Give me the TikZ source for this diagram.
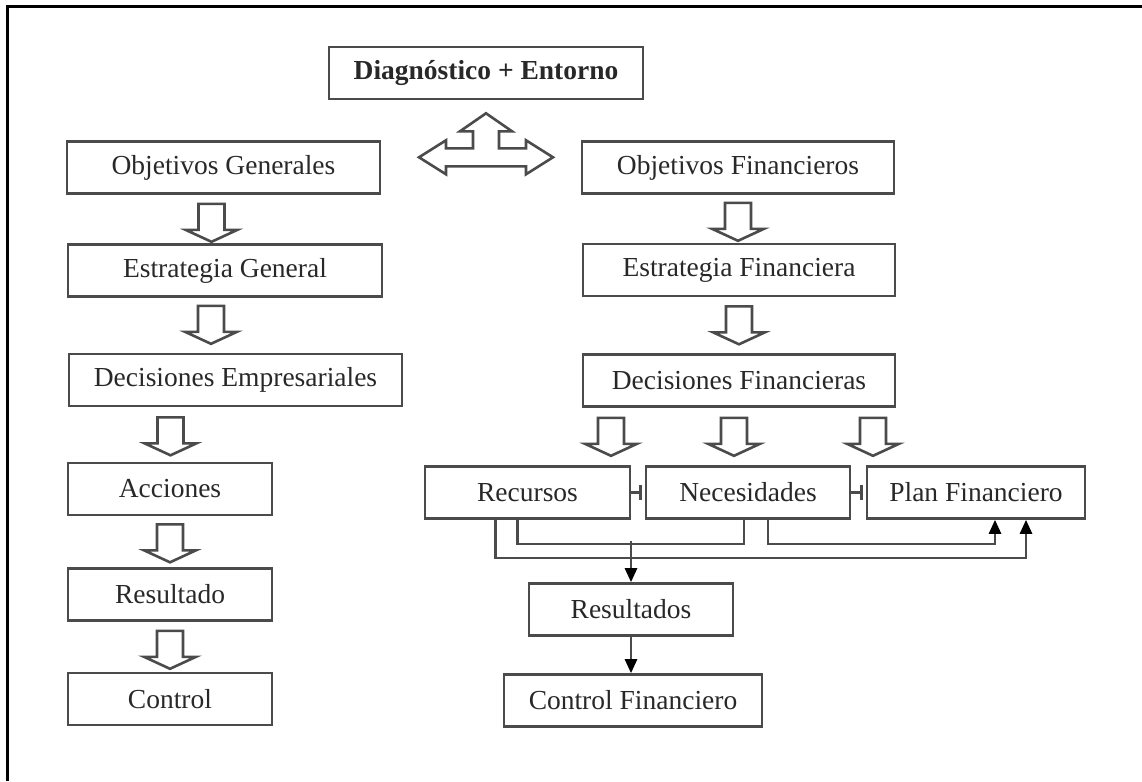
\documentclass[tikz,border=0pt]{standalone}
\usepackage{fontspec}
\setmainfont{Liberation Serif}
\usepackage{tikz}
\usetikzlibrary{arrows.meta,calc}

\definecolor{boxgray}{RGB}{75,75,75}
\definecolor{txtgray}{RGB}{40,40,40}

\tikzset{
  box/.style={draw=boxgray, line width=2.6pt, minimum height=52pt, inner sep=0pt, text=txtgray, font=\fontsize{27.5}{32}\selectfont},
  flow/.style={draw=boxgray, line width=2.6pt},
  ahead/.style={flow, -{Triangle[length=14pt,width=12pt,color=black]}},
  tee/.style={flow, -{Bar[width=15pt]}, shorten >=3pt},
  downarr/.pic={\draw[flow, fill=white] (-13,0) -- (13,0) -- (13,26) -- (26,26) -- (0,38) -- (-26,26) -- (-13,26) -- cycle;}
}

\begin{document}
\begin{tikzpicture}[x=1pt, y=-1pt]
  \useasboundingbox (0,0) rectangle (1142,781);
  \draw[line width=3pt] (7,781) -- (7,7) -- (1142,7);

  \node[box, minimum width=314, font=\fontsize{27.5}{32}\selectfont\bfseries] (diag) at (486,73) {Diagnóstico + Entorno};
  \node[box, minimum width=313] (objgen) at (223.5,167.5) {Objetivos Generales};
  \node[box, minimum width=314] (estgen) at (225,270.5) {Estrategia General};
  \node[box, minimum width=333] (decemp) at (235.5,380) {Decisiones Empresariales};
  \node[box, minimum width=204] (acc) at (170,489) {Acciones};
  \node[box, minimum width=204] (res) at (170,594.5) {Resultado};
  \node[box, minimum width=204] (ctl) at (170,699) {Control};
  \node[box, minimum width=312] (objfin) at (738,167.5) {Objetivos Financieros};
  \node[box, minimum width=312] (estfin) at (739,270) {Estrategia Financiera};
  \node[box, minimum width=312] (decfin) at (739,380.5) {Decisiones Financieras};
  \node[box, minimum width=205] (rec) at (527.5,492.5) {Recursos};
  \node[box, minimum width=204] (nec) at (748,492.5) {Necesidades};
  \node[box, minimum width=218] (plan) at (976,492.5) {Plan Financiero};
  \node[box, minimum width=204] (resfin) at (631,609.5) {Resultados};
  \node[box, minimum width=258] (ctlfin) at (633,700.5) {Control Financiero};

  \draw[flow, shift={($(diag.south)+(0,13)$)}] (0,0) -- (26,18) -- (13,18) -- (13,35) -- (40,35) -- (40,27) -- (67,44) -- (40,61) -- (40,53) -- (-40,53) -- (-40,61) -- (-67,44) -- (-40,27) -- (-40,35) -- (-13,35) -- (-13,18) -- (-26,18) -- cycle;

  \pic at ($(objgen.south)+(-12,9)$) {downarr};
  \pic at ($(estgen.south)+(-14,8)$) {downarr};
  \pic at ($(decemp.south)+(-65,10)$) {downarr};
  \pic at ($(acc.south)+(0,8)$) {downarr};
  \pic at ($(res.south)+(0,9)$) {downarr};
  \pic at ($(objfin.south)+(0,8)$) {downarr};
  \pic at ($(estfin.south)+(0,9)$) {downarr};
  \foreach \dx in {-128,-5,134}
    \pic at ($(decfin.south)+(\dx,10)$) {downarr};

  \draw[tee] (rec.east) -- (nec.west);
  \draw[tee] (nec.east) -- (plan.west);
  \draw[flow] ([xshift=-10]rec.south) -- ++(0,24) -| ([xshift=-4]nec.south);
  \draw[ahead] ([xshift=-32]rec.south) -- ++(0,38) -| ([xshift=50]plan.south);
  \draw[ahead] ([xshift=20]nec.south) -- ++(0,24) -| ([xshift=19]plan.south);
  \draw[ahead] ([yshift=41.5]resfin.north) -- (resfin.north);
  \draw[ahead] (resfin.south) -- (resfin.south |- ctlfin.north);
\end{tikzpicture}
\end{document}
